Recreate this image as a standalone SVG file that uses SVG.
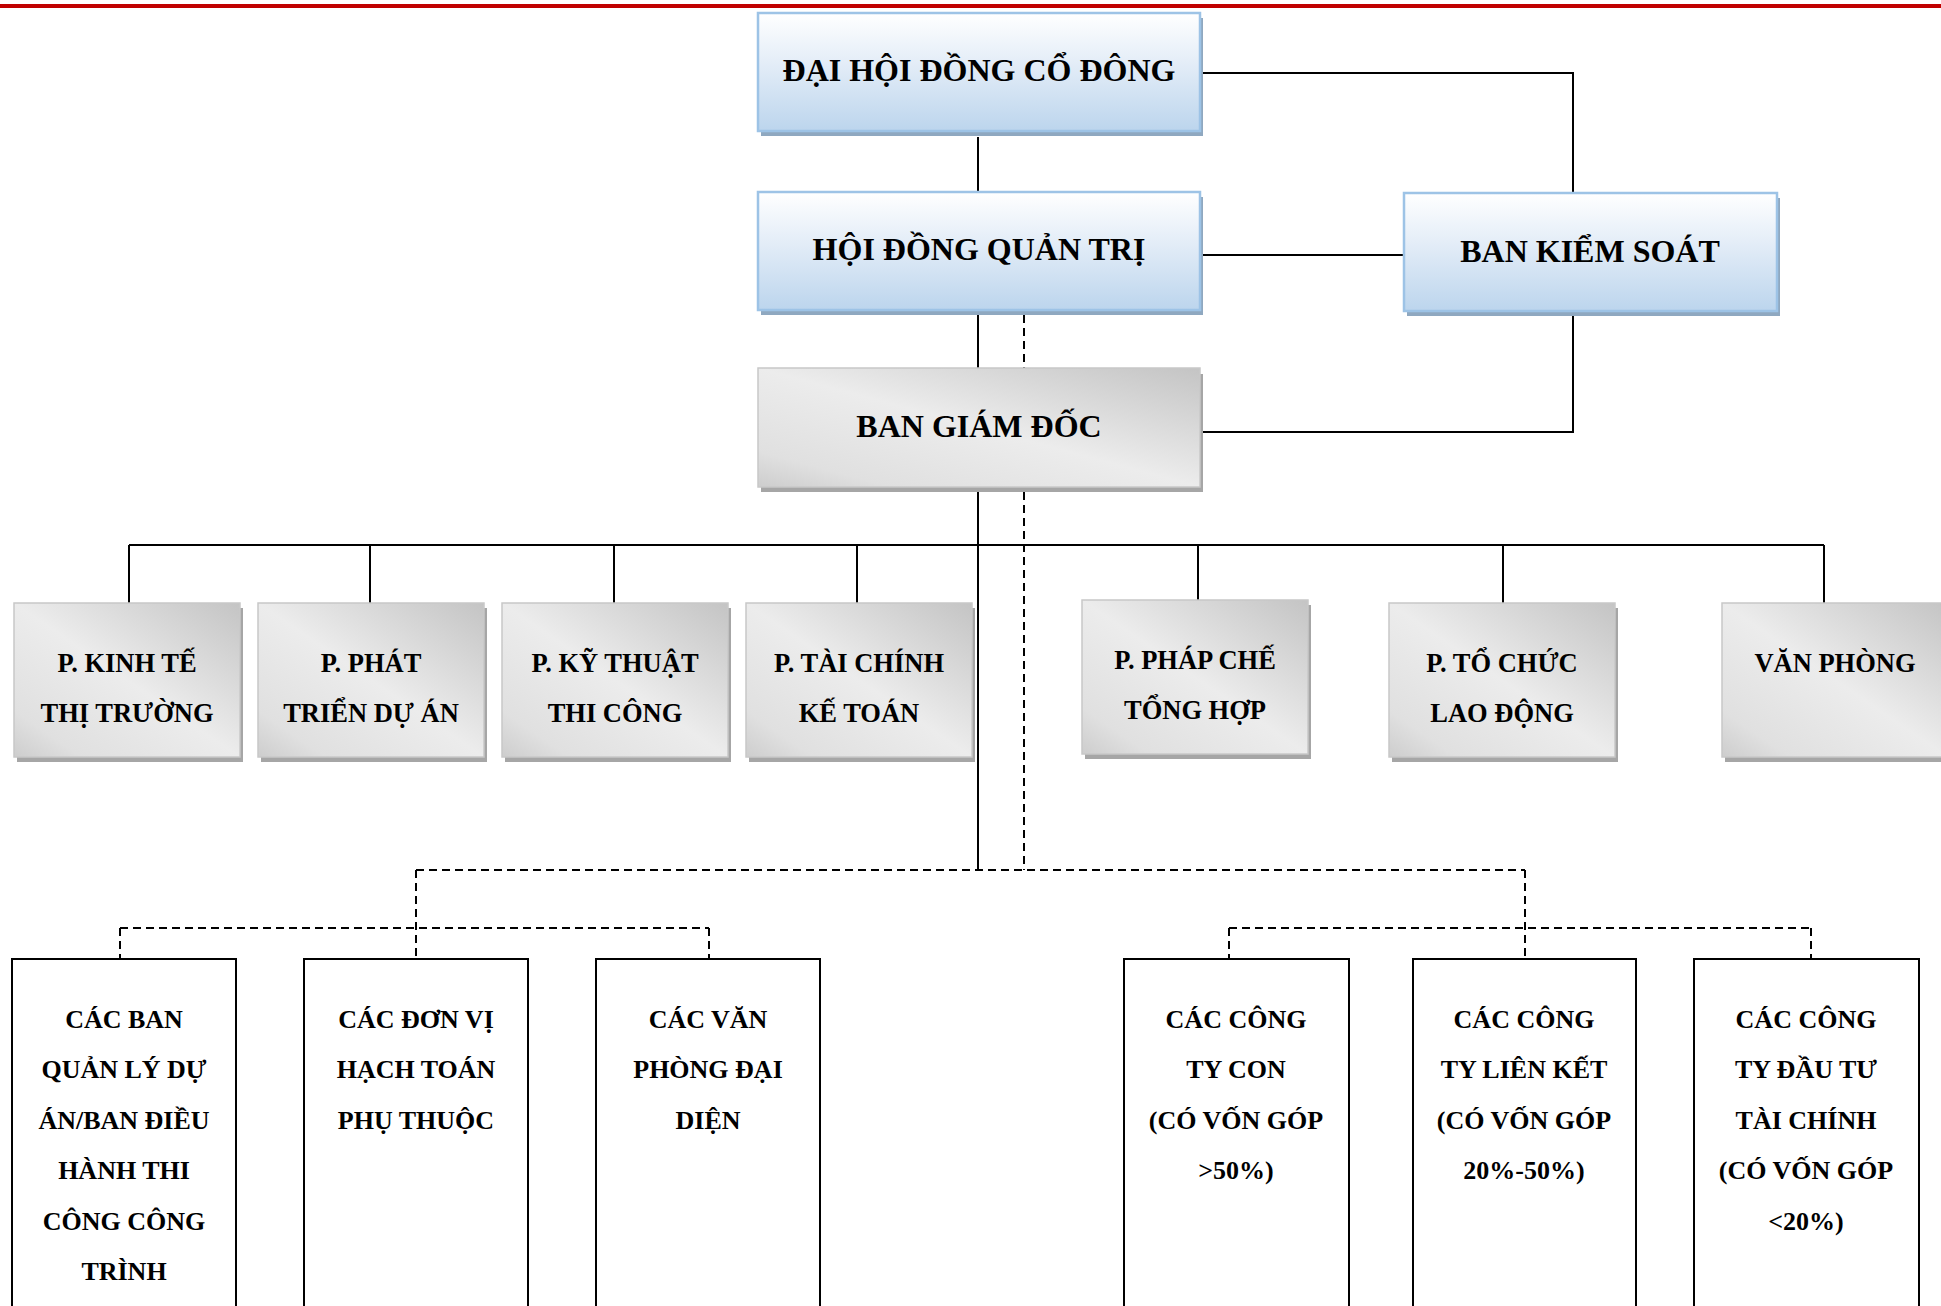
<svg xmlns="http://www.w3.org/2000/svg" width="1941" height="1306" viewBox="0 0 1941 1306">
<defs>
<linearGradient id="gBlue" x1="0" y1="0" x2="0" y2="1">
<stop offset="0" stop-color="#ffffff"/>
<stop offset="0.45" stop-color="#e2ecf7"/>
<stop offset="1" stop-color="#bcd5ed"/>
</linearGradient>
<linearGradient id="gGray" x1="1" y1="0" x2="0" y2="1">
<stop offset="0" stop-color="#c4c4c4"/>
<stop offset="0.5" stop-color="#ececec"/>
<stop offset="0.85" stop-color="#e0e0e0"/>
<stop offset="1" stop-color="#cdcdcd"/>
</linearGradient>
<style>
.t{font-family:"Liberation Serif","Times New Roman",serif;font-weight:bold;fill:#000;text-anchor:middle}
.big{font-size:32px}
.mid{font-size:26.5px}
.sm{font-size:26px}
.blue{fill:url(#gBlue);stroke:#9dc3e6;stroke-width:2.5}
.bsh{fill:#8fa8c0}
.gray{fill:url(#gGray);stroke:#c8c8c8;stroke-width:1.5}
.gsh{fill:#a6a6a6}
.wbox{fill:#fff;stroke:#000;stroke-width:2}
.ln{fill:none;stroke:#000;stroke-width:2}
.dl{fill:none;stroke:#000;stroke-width:2;stroke-dasharray:8 5}
</style>
</defs>
<rect x="0" y="4" width="1941" height="4" fill="#c00000"/>

<g id="connectors">
<path class="ln" d="M978,137 V192"/>
<path class="ln" d="M1202,73 H1573 V193"/>
<path class="ln" d="M1202,255 H1404"/>
<path class="ln" d="M1573,316 V432 H1203"/>
<path class="ln" d="M978,315 V368"/>
<path class="ln" d="M978,492 V870"/>
<path class="ln" d="M129,545 H1824"/>
<path class="ln" d="M129,545 V603 M370,545 V603 M614,545 V603 M857,545 V603 M1198,545 V600 M1503,545 V603 M1824,545 V603"/>
<path class="dl" d="M1024,315 V368"/>
<path class="dl" d="M1024,492 V870"/>
<path class="dl" d="M416,870 H1525"/>
<path class="dl" d="M416,870 V959"/>
<path class="dl" d="M1525,870 V959"/>
<path class="dl" d="M120,928 H709"/>
<path class="dl" d="M120,928 V959 M709,928 V959"/>
<path class="dl" d="M1229,928 H1811"/>
<path class="dl" d="M1229,928 V959 M1811,928 V959"/>
</g>

<g id="dhdcd">
<rect class="bsh" x="761" y="18" width="442" height="118"/>
<rect class="blue" x="758" y="13" width="442" height="118"/>
<text class="t big" x="979" y="81">ĐẠI HỘI ĐỒNG CỔ ĐÔNG</text>
</g>
<g id="hdqt">
<rect class="bsh" x="761" y="197" width="442" height="118"/>
<rect class="blue" x="758" y="192" width="442" height="118"/>
<text class="t big" x="979" y="260">HỘI ĐỒNG QUẢN TRỊ</text>
</g>
<g id="bks">
<rect class="bsh" x="1407" y="198" width="373" height="118"/>
<rect class="blue" x="1404" y="193" width="373" height="118"/>
<text class="t big" x="1590" y="262">BAN KIỂM SOÁT</text>
</g>
<g id="bgd">
<rect class="gsh" x="761" y="374" width="442" height="118"/>
<rect class="gray" x="758" y="368" width="442" height="119"/>
<text class="t big" x="979" y="437">BAN GIÁM ĐỐC</text>
</g>

<g id="p-kinhte">
<rect class="gsh" x="17" y="608" width="226" height="154"/>
<rect class="gray" x="14" y="603" width="226" height="154"/>
<text class="t mid" x="127" y="672">P. KINH TẾ</text>
<text class="t mid" x="127" y="722">THỊ TRƯỜNG</text>
</g>
<g id="p-phattrien">
<rect class="gsh" x="261" y="608" width="226" height="154"/>
<rect class="gray" x="258" y="603" width="226" height="154"/>
<text class="t mid" x="371" y="672">P. PHÁT</text>
<text class="t mid" x="371" y="722">TRIỂN DỰ ÁN</text>
</g>
<g id="p-kythuat">
<rect class="gsh" x="505" y="608" width="226" height="154"/>
<rect class="gray" x="502" y="603" width="226" height="154"/>
<text class="t mid" x="615" y="672">P. KỸ THUẬT</text>
<text class="t mid" x="615" y="722">THI CÔNG</text>
</g>
<g id="p-taichinh">
<rect class="gsh" x="749" y="608" width="226" height="154"/>
<rect class="gray" x="746" y="603" width="226" height="154"/>
<text class="t mid" x="859" y="672">P. TÀI CHÍNH</text>
<text class="t mid" x="859" y="722">KẾ TOÁN</text>
</g>
<g id="p-phapche">
<rect class="gsh" x="1085" y="605" width="226" height="154"/>
<rect class="gray" x="1082" y="600" width="226" height="154"/>
<text class="t mid" x="1195" y="669">P. PHÁP CHẾ</text>
<text class="t mid" x="1195" y="719">TỔNG HỢP</text>
</g>
<g id="p-tochuc">
<rect class="gsh" x="1392" y="608" width="226" height="154"/>
<rect class="gray" x="1389" y="603" width="226" height="154"/>
<text class="t mid" x="1502" y="672">P. TỔ CHỨC</text>
<text class="t mid" x="1502" y="722">LAO ĐỘNG</text>
</g>
<g id="vanphong">
<rect class="gsh" x="1725" y="608" width="226" height="154"/>
<rect class="gray" x="1722" y="603" width="226" height="154"/>
<text class="t mid" x="1835" y="672">VĂN PHÒNG</text>
</g>

<g id="b-banqlda">
<rect class="wbox" x="12" y="959" width="224" height="360"/>
<text class="t sm" x="124" y="1028">CÁC BAN</text>
<text class="t sm" x="124" y="1078">QUẢN LÝ DỰ</text>
<text class="t sm" x="124" y="1129">ÁN/BAN ĐIỀU</text>
<text class="t sm" x="124" y="1179">HÀNH THI</text>
<text class="t sm" x="124" y="1230">CÔNG CÔNG</text>
<text class="t sm" x="124" y="1280">TRÌNH</text>
</g>
<g id="b-donvi">
<rect class="wbox" x="304" y="959" width="224" height="360"/>
<text class="t sm" x="416" y="1028">CÁC ĐƠN VỊ</text>
<text class="t sm" x="416" y="1078">HẠCH TOÁN</text>
<text class="t sm" x="416" y="1129">PHỤ THUỘC</text>
</g>
<g id="b-vanphong">
<rect class="wbox" x="596" y="959" width="224" height="360"/>
<text class="t sm" x="708" y="1028">CÁC VĂN</text>
<text class="t sm" x="708" y="1078">PHÒNG ĐẠI</text>
<text class="t sm" x="708" y="1129">DIỆN</text>
</g>
<g id="b-congtycon">
<rect class="wbox" x="1124" y="959" width="225" height="360"/>
<text class="t sm" x="1236" y="1028">CÁC CÔNG</text>
<text class="t sm" x="1236" y="1078">TY CON</text>
<text class="t sm" x="1236" y="1129">(CÓ VỐN GÓP</text>
<text class="t sm" x="1236" y="1179">&gt;50%)</text>
</g>
<g id="b-lienket">
<rect class="wbox" x="1413" y="959" width="223" height="360"/>
<text class="t sm" x="1524" y="1028">CÁC CÔNG</text>
<text class="t sm" x="1524" y="1078">TY LIÊN KẾT</text>
<text class="t sm" x="1524" y="1129">(CÓ VỐN GÓP</text>
<text class="t sm" x="1524" y="1179">20%-50%)</text>
</g>
<g id="b-dautu">
<rect class="wbox" x="1694" y="959" width="225" height="360"/>
<text class="t sm" x="1806" y="1028">CÁC CÔNG</text>
<text class="t sm" x="1806" y="1078">TY ĐẦU TƯ</text>
<text class="t sm" x="1806" y="1129">TÀI CHÍNH</text>
<text class="t sm" x="1806" y="1179">(CÓ VỐN GÓP</text>
<text class="t sm" x="1806" y="1230">&lt;20%)</text>
</g>
</svg>
